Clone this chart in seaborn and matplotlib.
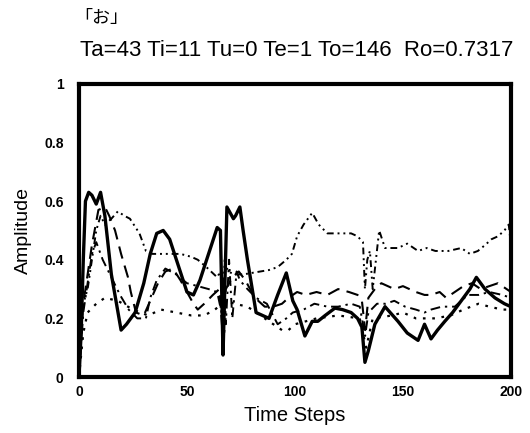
import matplotlib
matplotlib.use("Agg")
import matplotlib.pyplot as plt
import seaborn as sns
import pandas as pd

# ---- data ----
title_top = "「お」"
title_params = "Ta=43 Ti=11 Tu=0 Te=1 To=146  Ro=0.7317"
x_label = "Time Steps"
y_label = "Amplitude"
x_ticks = [0, 50, 100, 150, 200]
y_ticks = [0, 0.2, 0.4, 0.6, 0.8, 1]
y_tick_labels = ["0", "0.2", "0.4", "0.6", "0.8", "1"]

solid_t = [0, 1, 2, 3, 4.5, 6, 8, 10, 12, 15, 19.5, 22, 26, 30, 33, 36, 39, 42, 46, 50, 53, 56, 60,
           64, 65.5, 66.7, 67.5, 68.5, 70, 71.5, 72.5, 74.5, 76, 78, 82, 85, 88, 92, 96, 99, 101, 104.6,
           108, 110.6, 114, 118.5, 122, 126, 129, 131, 132.4, 134, 137, 141.7, 147.7, 152, 157, 160,
           163, 166, 169.4, 173, 177, 181, 184, 188, 192.6, 197, 200]
solid_v = [0, 0.15, 0.40, 0.60, 0.63, 0.62, 0.59, 0.63, 0.55, 0.35, 0.16, 0.18, 0.22, 0.32, 0.42, 0.49,
           0.50, 0.47, 0.38, 0.29, 0.28, 0.33, 0.42, 0.51, 0.50, 0.075, 0.30, 0.58, 0.56, 0.54, 0.55, 0.58,
           0.50, 0.40, 0.22, 0.21, 0.20, 0.28, 0.355, 0.26, 0.23, 0.14, 0.19, 0.19, 0.21, 0.235, 0.23,
           0.22, 0.20, 0.17, 0.05, 0.09, 0.18, 0.24, 0.19, 0.15, 0.125, 0.18, 0.13, 0.16, 0.19, 0.22,
           0.26, 0.30, 0.34, 0.30, 0.27, 0.25, 0.24]

dashdotdot_t = [0, 1, 2, 4, 6, 8, 10, 12, 15, 18, 21, 23.6, 28, 31, 34, 38, 42, 47, 52, 55, 59, 64,
                65.5, 66.5, 67.5, 69, 72, 76, 80, 84, 88, 92, 96, 98.6, 101, 104, 108, 111, 115, 120,
                126, 129, 131.5, 132.4, 133.5, 134.7, 136, 137.5, 139, 141.7, 147.7, 152, 157, 161,
                165, 171, 177, 181, 184.7, 188, 191, 194, 197, 199, 200]
dashdotdot_v = [0, 0.18, 0.25, 0.30, 0.40, 0.50, 0.55, 0.52, 0.54, 0.565, 0.55, 0.54, 0.49, 0.43,
                0.42, 0.42, 0.42, 0.42, 0.41, 0.40, 0.375, 0.34, 0.36, 0.25, 0.40, 0.36, 0.35, 0.35,
                0.355, 0.36, 0.365, 0.375, 0.40, 0.42, 0.48, 0.52, 0.56, 0.52, 0.49, 0.49, 0.49, 0.48,
                0.46, 0.30, 0.40, 0.43, 0.30, 0.40, 0.50, 0.44, 0.44, 0.455, 0.43, 0.44, 0.43, 0.43,
                0.44, 0.42, 0.43, 0.45, 0.47, 0.48, 0.50, 0.52, 0.45]

dashed_t = [0, 2, 4, 6, 9, 12, 14, 16.7, 19.5, 22.7, 24, 26.4, 30, 33, 36.6, 40, 43.5, 47, 50, 53,
            55, 58, 62, 65, 66.5, 68, 71, 74, 77, 80, 83, 86, 90, 94, 97, 101, 105, 110, 115, 120,
            125, 129, 131, 132.5, 134, 137, 140, 143, 146, 150, 153, 156, 160, 163, 167, 170, 174,
            178, 182, 186, 190, 194, 198, 200]
dashed_v = [0, 0.25, 0.35, 0.45, 0.57, 0.58, 0.55, 0.50, 0.42, 0.34, 0.29, 0.22, 0.21, 0.26, 0.32,
            0.36, 0.37, 0.33, 0.29, 0.25, 0.23, 0.25, 0.28, 0.30, 0.15, 0.30, 0.34, 0.36, 0.33, 0.29,
            0.26, 0.24, 0.24, 0.25, 0.27, 0.29, 0.28, 0.29, 0.28, 0.30, 0.29, 0.28, 0.26, 0.16, 0.27,
            0.30, 0.32, 0.31, 0.30, 0.31, 0.30, 0.29, 0.28, 0.28, 0.29, 0.27, 0.29, 0.31, 0.32, 0.30,
            0.31, 0.32, 0.30, 0.29]

dashdot_t = [0, 2, 4, 6, 8, 11, 15, 19, 23, 27, 31, 33, 36, 40, 45, 50, 55, 60, 64, 66, 67, 68,
             69.5, 71, 73, 74.5, 78, 82, 87, 92, 96, 99, 104, 109, 115, 120, 126, 130, 132.5, 134,
             138, 142, 146, 151, 156, 160, 163, 168, 174, 180, 185, 190, 196, 200]
dashdot_v = [0, 0.22, 0.32, 0.42, 0.46, 0.40, 0.34, 0.28, 0.23, 0.20, 0.20, 0.27, 0.33, 0.37, 0.35,
             0.32, 0.31, 0.30, 0.29, 0.22, 0.33, 0.18, 0.40, 0.20, 0.36, 0.33, 0.30, 0.27, 0.25,
             0.18, 0.20, 0.22, 0.23, 0.25, 0.24, 0.24, 0.25, 0.24, 0.14, 0.22, 0.25, 0.25, 0.26,
             0.24, 0.23, 0.22, 0.23, 0.24, 0.24, 0.28, 0.28, 0.29, 0.28, 0.27]

dotted_t = [0, 2, 4, 8, 12, 18, 25, 32, 38, 45, 52, 58, 63, 66, 67, 68, 72, 78, 84, 90, 94, 97,
            100, 110, 120, 130, 133, 136, 145, 150, 156, 165, 172, 178, 185, 190, 196, 200]
dotted_v = [0, 0.15, 0.22, 0.25, 0.27, 0.26, 0.23, 0.21, 0.23, 0.22, 0.21, 0.21, 0.23, 0.25, 0.12,
            0.26, 0.25, 0.24, 0.21, 0.18, 0.16, 0.16, 0.18, 0.20, 0.21, 0.20, 0.10, 0.20, 0.21,
            0.22, 0.20, 0.20, 0.21, 0.23, 0.25, 0.24, 0.23, 0.23]

series = [
    ("solid", solid_t, solid_v),
    ("dashdotdot", dashdotdot_t, dashdotdot_v),
    ("dashed", dashed_t, dashed_v),
    ("dashdot", dashdot_t, dashdot_v),
    ("dotted", dotted_t, dotted_v),
]
styles = {
    "solid": dict(linestyle="-", linewidth=2.4),
    "dashdotdot": dict(linestyle=(0, (3.5, 2, 1, 2, 1, 2)), linewidth=1.4),
    "dashed": dict(linestyle=(0, (6, 3.5)), linewidth=1.5),
    "dashdot": dict(linestyle=(0, (5, 2.5, 1.2, 2.5)), linewidth=1.4),
    "dotted": dict(linestyle=(0, (1.2, 3)), linewidth=1.6),
}

frames = [pd.DataFrame({"t": t, "v": v, "series": name}) for name, t, v in series]
df = pd.concat(frames, ignore_index=True)

sns.set_theme(style="white")
plt.rcParams["font.family"] = ["Liberation Sans", "DejaVu Sans"]

fig = plt.figure(figsize=(5.30, 4.33), dpi=100)
ax = fig.add_axes([0.149, 0.1293, 0.815, 0.677])

for name, _, _ in series:
    sub = df[df["series"] == name]
    sns.lineplot(data=sub, x="t", y="v", ax=ax, color="black", estimator=None,
                 sort=False, legend=False, **styles[name])

ax.set_xlim(0, 200)
ax.set_ylim(0, 1)
ax.set_xticks(x_ticks)
ax.set_xticklabels([str(v) for v in x_ticks], fontsize=10, fontweight="bold")
ax.set_yticks(y_ticks)
ax.set_yticklabels(y_tick_labels, fontsize=10, fontweight="bold")
ax.tick_params(axis="x", direction="in", length=5, width=2.5, pad=6, colors="black")
ax.tick_params(axis="y", direction="out", length=5, width=2.5, pad=6, colors="black")
ax.tick_params(axis="both", labelcolor="black")
ax.set_xlabel(x_label, fontsize=14.5, color="black", labelpad=5)
ax.set_ylabel(y_label, fontsize=14, color="black", labelpad=9)
for sp in ax.spines.values():
    sp.set_visible(True)
    sp.set_color("black")
    sp.set_linewidth(3.0)
ax.grid(False)

fig.text(74 / 530, 1 - 18 / 433, title_top, fontsize=13, va="center", ha="left",
         family=["Noto Sans CJK JP", "DejaVu Sans"], color="black")
fig.text(297 / 530, 1 - 50 / 433, title_params, fontsize=16, va="center", ha="center",
         color="black")

fig.savefig("out.png", dpi=100, facecolor="white")
